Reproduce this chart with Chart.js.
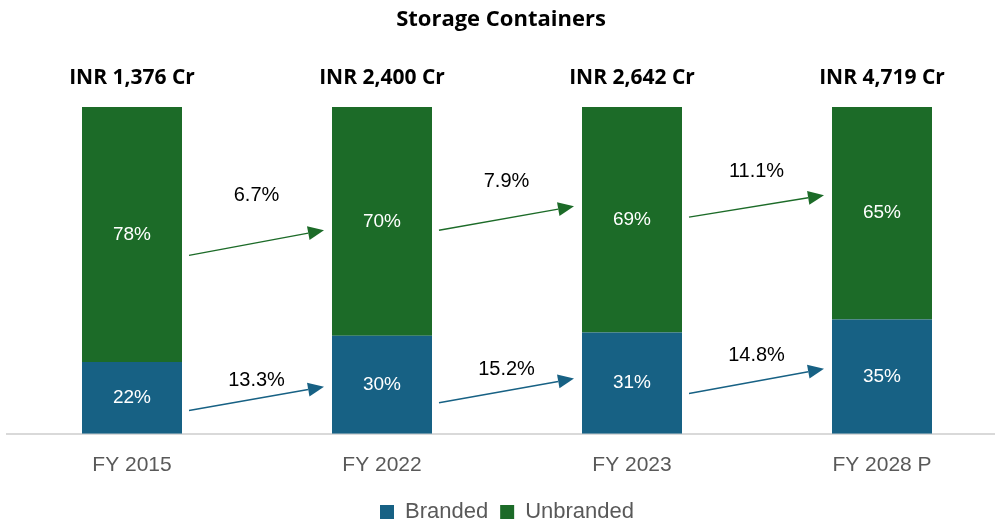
<!doctype html>
<html>
<head>
<meta charset="utf-8">
<script src="https://cdn.jsdelivr.net/npm/chart.js@4.4.1/dist/chart.umd.min.js"></script>
</head>
<body style="margin:0;overflow:hidden;background:#fff;">
<div style="width:1007px;height:519px;">
  <canvas id="chart" width="1007" height="519"></canvas>
</div>
<script>
const years = ['FY 2015', 'FY 2022', 'FY 2023', 'FY 2028 P'];
const branded = [22, 30, 31, 35];
const unbranded = [78, 70, 69, 65];
const totals = ['INR 1,376 Cr', 'INR 2,400 Cr', 'INR 2,642 Cr', 'INR 4,719 Cr'];

// growth arrows between bars: start / end height (in % of bar) and label height
const unbrandedCagr = ['6.7%', '7.9%', '11.1%'];
const unbrandedArrowFrom = [54.6, 62.3, 66.3];
const unbrandedArrowTo = [62.3, 69.6, 73.0];
const unbrandedLabelY = [73, 77.3, 80.4];
const brandedCagr = ['13.3%', '15.2%', '14.8%'];
const brandedArrowFrom = [7.1, 9.5, 12.3];
const brandedArrowTo = [14.4, 16.9, 19.9];
const brandedLabelY = [16.3, 19.6, 23.9];

const BLUE = '#176184';
const GREEN = '#1c6b28';

const overlay = {
  id: 'overlay',
  afterDatasetsDraw(chart) {
    const ctx = chart.ctx;
    const x = chart.scales.x, y = chart.scales.y;
    const ca = chart.chartArea;
    ctx.save();

    // title
    ctx.fillStyle = '#000';
    ctx.font = 'bold 22px "Open Sans", sans-serif';
    ctx.textAlign = 'center';
    ctx.textBaseline = 'middle';
    ctx.fillText('Storage Containers', (ca.left + 995) / 2, 20);

    const meta0 = chart.getDatasetMeta(0);

    // segment percentages
    ctx.font = '19px "Liberation Sans", Arial, sans-serif';
    ctx.fillStyle = '#fff';
    years.forEach((_, i) => {
      const cx = x.getPixelForValue(i);
      ctx.fillText(branded[i] + '%', cx, y.getPixelForValue(branded[i] / 2));
      ctx.fillText(unbranded[i] + '%', cx, y.getPixelForValue(branded[i] + unbranded[i] / 2));
    });

    // totals above bars
    ctx.font = 'bold 21px "Open Sans", sans-serif';
    ctx.fillStyle = '#000';
    years.forEach((_, i) => {
      ctx.fillText(totals[i], x.getPixelForValue(i), y.getPixelForValue(109));
    });

    function arrow(x1, y1, x2, y2, color) {
      const ang = Math.atan2(y2 - y1, x2 - x1);
      const hl = 16, hw = 7;
      ctx.strokeStyle = color;
      ctx.fillStyle = color;
      ctx.lineWidth = 1.5;
      ctx.beginPath();
      ctx.moveTo(x1, y1);
      ctx.lineTo(x2 - hl * Math.cos(ang), y2 - hl * Math.sin(ang));
      ctx.stroke();
      ctx.beginPath();
      ctx.moveTo(x2, y2);
      ctx.lineTo(x2 - hl * Math.cos(ang) + hw * Math.sin(ang), y2 - hl * Math.sin(ang) - hw * Math.cos(ang));
      ctx.lineTo(x2 - hl * Math.cos(ang) - hw * Math.sin(ang), y2 - hl * Math.sin(ang) + hw * Math.cos(ang));
      ctx.closePath();
      ctx.fill();
    }

    for (let i = 0; i < 3; i++) {
      const b0 = meta0.data[i], b1 = meta0.data[i + 1];
      const xs = b0.x + b0.width / 2 + 7;
      const xe = b1.x - b1.width / 2 - 8;
      const mid = (xs + xe) / 2;
      arrow(xs, y.getPixelForValue(unbrandedArrowFrom[i]), xe, y.getPixelForValue(unbrandedArrowTo[i]), GREEN);
      arrow(xs, y.getPixelForValue(brandedArrowFrom[i]), xe, y.getPixelForValue(brandedArrowTo[i]), BLUE);
      ctx.fillStyle = '#000';
      ctx.font = '20px "Liberation Sans", Arial, sans-serif';
      ctx.fillText(unbrandedCagr[i], mid, y.getPixelForValue(unbrandedLabelY[i]));
      ctx.fillText(brandedCagr[i], mid, y.getPixelForValue(brandedLabelY[i]));
    }
    ctx.restore();
  }
};

new Chart(document.getElementById('chart'), {
  type: 'bar',
  data: {
    labels: years,
    datasets: [
      { label: 'Branded', data: branded, backgroundColor: BLUE },
      { label: 'Unbranded', data: unbranded, backgroundColor: GREEN }
    ]
  },
  options: {
    responsive: false,
    animation: false,
    layout: { padding: { top: 107, left: 7, right: 0, bottom: -14 } },
    datasets: { bar: { categoryPercentage: 0.4, barPercentage: 1 } },
    scales: {
      x: {
        stacked: true,
        grid: { display: false },
        border: { color: '#d9d9d9', width: 2 },
        ticks: { color: '#595959', padding: 11, font: { size: 21, family: '"Liberation Sans", Arial, sans-serif' } }
      },
      y: { stacked: true, display: false, min: 0, max: 100 }
    },
    plugins: {
      legend: {
        position: 'bottom',
        labels: {
          color: '#595959',
          boxWidth: 14,
          boxHeight: 14,
          padding: 12,
          font: { size: 22, family: '"Liberation Sans", Arial, sans-serif' }
        }
      },
      tooltip: { enabled: false },
      title: { display: false }
    }
  },
  plugins: [overlay]
});
</script>
</body>
</html>
